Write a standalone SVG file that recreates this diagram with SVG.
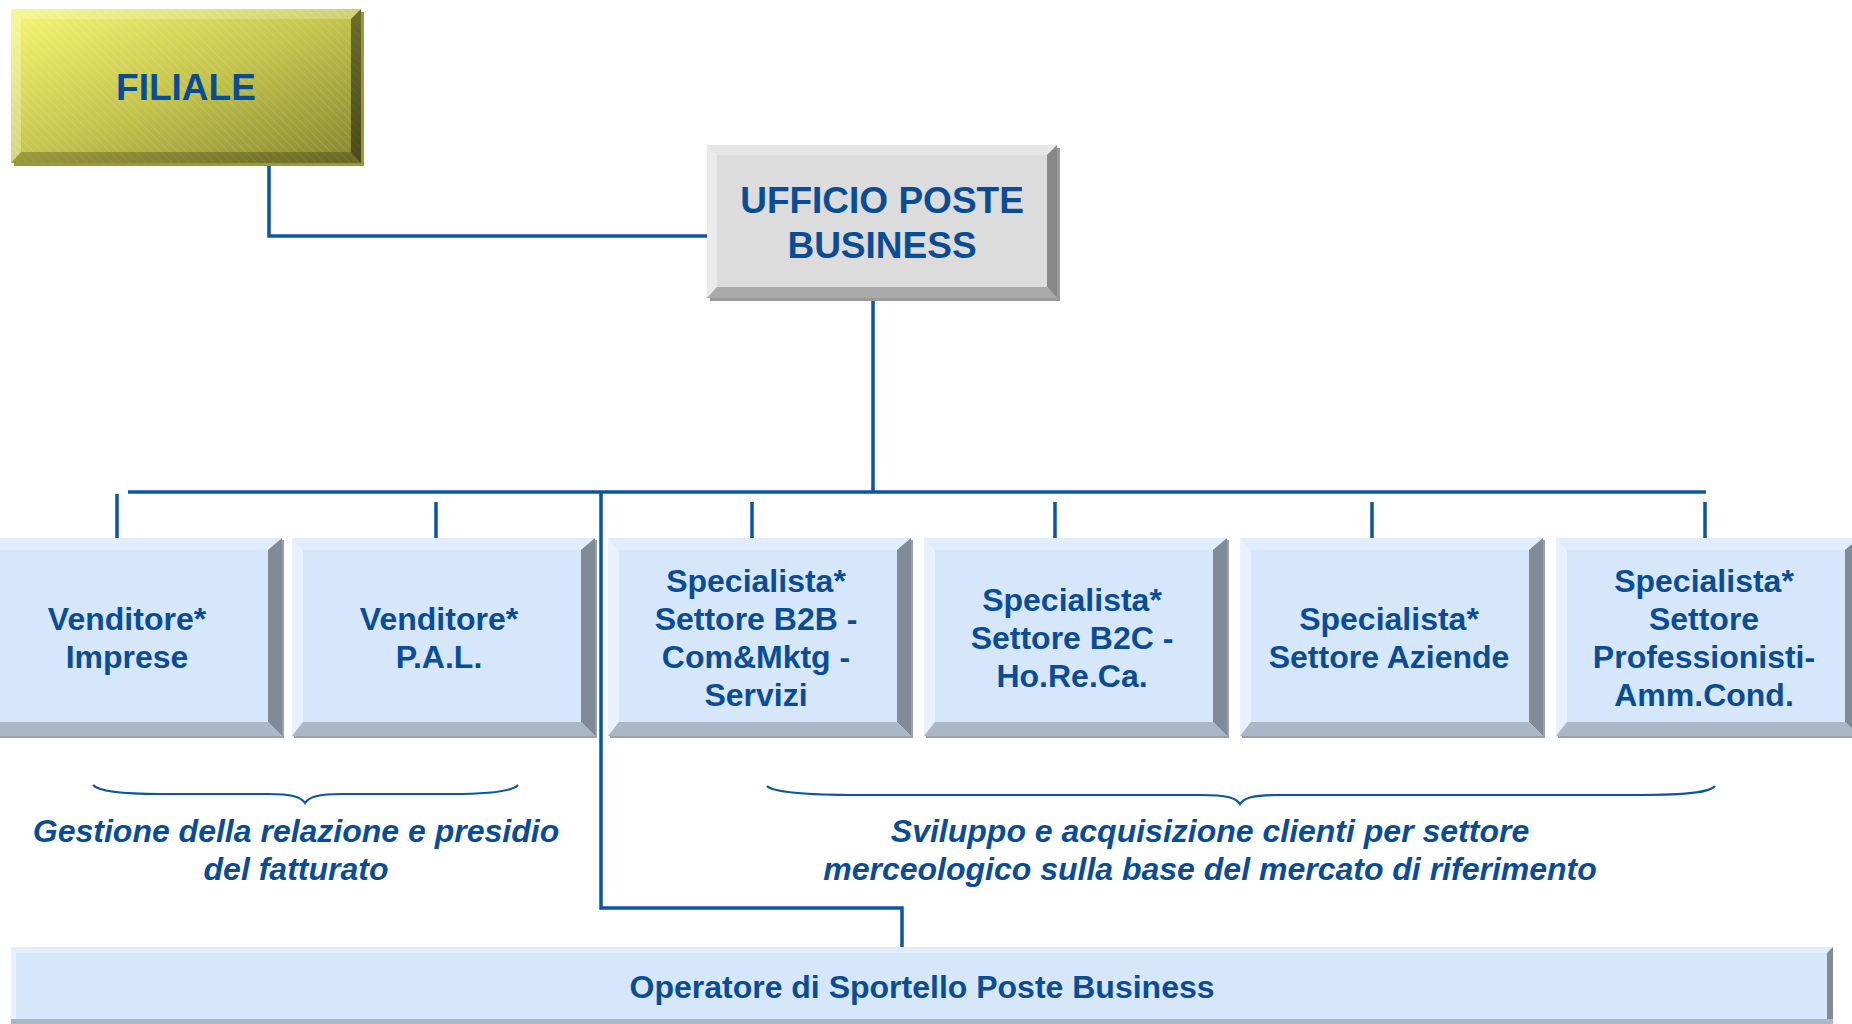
<svg xmlns="http://www.w3.org/2000/svg" xmlns:xlink="http://www.w3.org/1999/xlink" width="1852" height="1024" viewBox="0 0 1852 1024">
<style>
  .t { font-family: "Liberation Sans", Arial, sans-serif; font-weight: bold; fill: #0b4c96; text-anchor: middle; }
  .big { font-size: 37px; }
  .mid { font-size: 32px; }
  .it { font-style: italic; }
  .conn { fill: none; stroke: #0b55a3; stroke-width: 3.5; }
  .brace { fill: none; stroke: #0b55a3; stroke-width: 2.2; }
</style>
<defs>
  <linearGradient id="yellowGrad" x1="0" y1="0" x2="1" y2="1">
    <stop offset="0" stop-color="#f7f772"/>
    <stop offset="0.5" stop-color="#c4c44e"/>
    <stop offset="1" stop-color="#85852e"/>
  </linearGradient>
  <pattern id="hatch" width="6" height="6" patternUnits="userSpaceOnUse" patternTransform="rotate(-45)">
    <line x1="0" y1="0" x2="0" y2="6" stroke="#ffffff" stroke-opacity="0.12" stroke-width="2"/>
  </pattern>
  <g id="bluebox">
    <rect x="2" y="2" width="303" height="198" fill="#98a2ad"/>
    <rect x="0" y="0" width="303" height="198" fill="#d6e6fb"/>
    <polygon points="0,0 303,0 289,12 11,12" fill="#e1ecfc"/>
    <polygon points="0,0 11,12 11,184 0,198" fill="#e8f1fd"/>
    <polygon points="303,0 303,198 289,184 289,12" fill="#808b97"/>
    <polygon points="0,198 303,198 289,184 11,184" fill="#aab7c7"/>
  </g>
</defs>
<rect width="1852" height="1024" fill="#ffffff"/>

<g id="connectors">
  <path class="conn" d="M269,163 V236 H707"/>
  <path class="conn" d="M873,298 V492"/>
  <path class="conn" d="M128,492 H1706"/>
  <path class="conn" d="M117,494 V538"/>
  <path class="conn" d="M436,502 V538"/>
  <path class="conn" d="M752,502 V538"/>
  <path class="conn" d="M1055,502 V538"/>
  <path class="conn" d="M1372,502 V538"/>
  <path class="conn" d="M1705,502 V538"/>
  <path class="conn" d="M601,492 V908 H902 V947"/>
</g>

<g id="filiale">
  <rect x="14" y="12" width="350" height="154" fill="#9a9a3a"/>
  <rect x="11" y="9" width="350" height="154" fill="url(#yellowGrad)"/>
  <rect x="11" y="9" width="350" height="154" fill="url(#hatch)"/>
  <polygon points="11,9 361,9 351,19 21,19" fill="#ffffff" fill-opacity="0.22"/>
  <polygon points="11,9 21,19 21,152 11,163" fill="#ffffff" fill-opacity="0.3"/>
  <polygon points="361,9 361,163 351,152 351,19" fill="#000000" fill-opacity="0.45"/>
  <polygon points="11,163 361,163 351,152 21,152" fill="#000000" fill-opacity="0.22"/>
  <text class="t big" x="186" y="100">FILIALE</text>
</g>

<g id="ufficio">
  <rect x="710" y="148" width="350" height="153" fill="#9a9a9a"/>
  <rect x="707" y="145" width="350" height="153" fill="#dcdcdc"/>
  <polygon points="707,145 1057,145 1047,155 717,155" fill="#e6e6e6"/>
  <polygon points="707,145 717,155 717,287 707,298" fill="#ebebeb"/>
  <polygon points="1057,145 1057,298 1047,287 1047,155" fill="#888888"/>
  <polygon points="707,298 1057,298 1047,287 717,287" fill="#aaaaaa"/>
  <text class="t big" x="882" y="213">UFFICIO POSTE</text>
  <text class="t big" x="882" y="258">BUSINESS</text>
</g>

<g id="venditore-imprese">
  <use xlink:href="#bluebox" x="-21" y="538"/>
  <text class="t mid" x="127" y="630">Venditore*</text>
  <text class="t mid" x="127" y="668">Imprese</text>
</g>
<g id="venditore-pal">
  <use xlink:href="#bluebox" x="292" y="538"/>
  <text class="t mid" x="439" y="630">Venditore*</text>
  <text class="t mid" x="439" y="668">P.A.L.</text>
</g>
<g id="specialista-b2b">
  <use xlink:href="#bluebox" x="608" y="538"/>
  <text class="t mid" x="756" y="592">Specialista*</text>
  <text class="t mid" x="756" y="630">Settore B2B -</text>
  <text class="t mid" x="756" y="668">Com&amp;Mktg -</text>
  <text class="t mid" x="756" y="706">Servizi</text>
</g>
<g id="specialista-b2c">
  <use xlink:href="#bluebox" x="924" y="538"/>
  <text class="t mid" x="1072" y="611">Specialista*</text>
  <text class="t mid" x="1072" y="649">Settore B2C -</text>
  <text class="t mid" x="1072" y="687">Ho.Re.Ca.</text>
</g>
<g id="specialista-aziende">
  <use xlink:href="#bluebox" x="1240" y="538"/>
  <text class="t mid" x="1389" y="630">Specialista*</text>
  <text class="t mid" x="1389" y="668">Settore Aziende</text>
</g>
<g id="specialista-professionisti">
  <use xlink:href="#bluebox" x="1556" y="538"/>
  <text class="t mid" x="1704" y="592">Specialista*</text>
  <text class="t mid" x="1704" y="630">Settore</text>
  <text class="t mid" x="1704" y="668">Professionisti-</text>
  <text class="t mid" x="1704" y="706">Amm.Cond.</text>
</g>

<g id="brace-left">
  <path class="brace" d="M93,785 C99,792 125,794 160,794 L268,794 C292,794 301,797 305,803 C309,797 318,794 342,794 L452,794 C486,794 512,792 518,785"/>
  <text class="t mid it" x="296" y="842">Gestione della relazione e presidio</text>
  <text class="t mid it" x="296" y="880">del fatturato</text>
</g>
<g id="brace-right">
  <path class="brace" d="M767,786 C774,793 810,795 860,795 L1200,795 C1228,795 1236,798 1240,804 C1244,798 1252,795 1280,795 L1640,795 C1690,795 1710,792 1715,786"/>
  <text class="t mid it" x="1210" y="842">Sviluppo e acquisizione clienti per settore</text>
  <text class="t mid it" x="1210" y="880">merceologico sulla base del mercato di riferimento</text>
</g>

<g id="operatore">
  <rect x="11" y="947" width="1822" height="84" fill="#d6e6fb"/>
  <polygon points="11,947 1833,947 1827,953 16,953" fill="#e1ecfc"/>
  <polygon points="11,947 16,953 16,1019 11,1024" fill="#e8f1fd"/>
  <polygon points="1833,947 1833,1024 1827,1019 1827,953" fill="#808b97"/>
  <rect x="11" y="1019" width="1822" height="12" fill="#aab7c7"/>
  <text class="t mid" x="922" y="998">Operatore di Sportello Poste Business</text>
</g>
</svg>
